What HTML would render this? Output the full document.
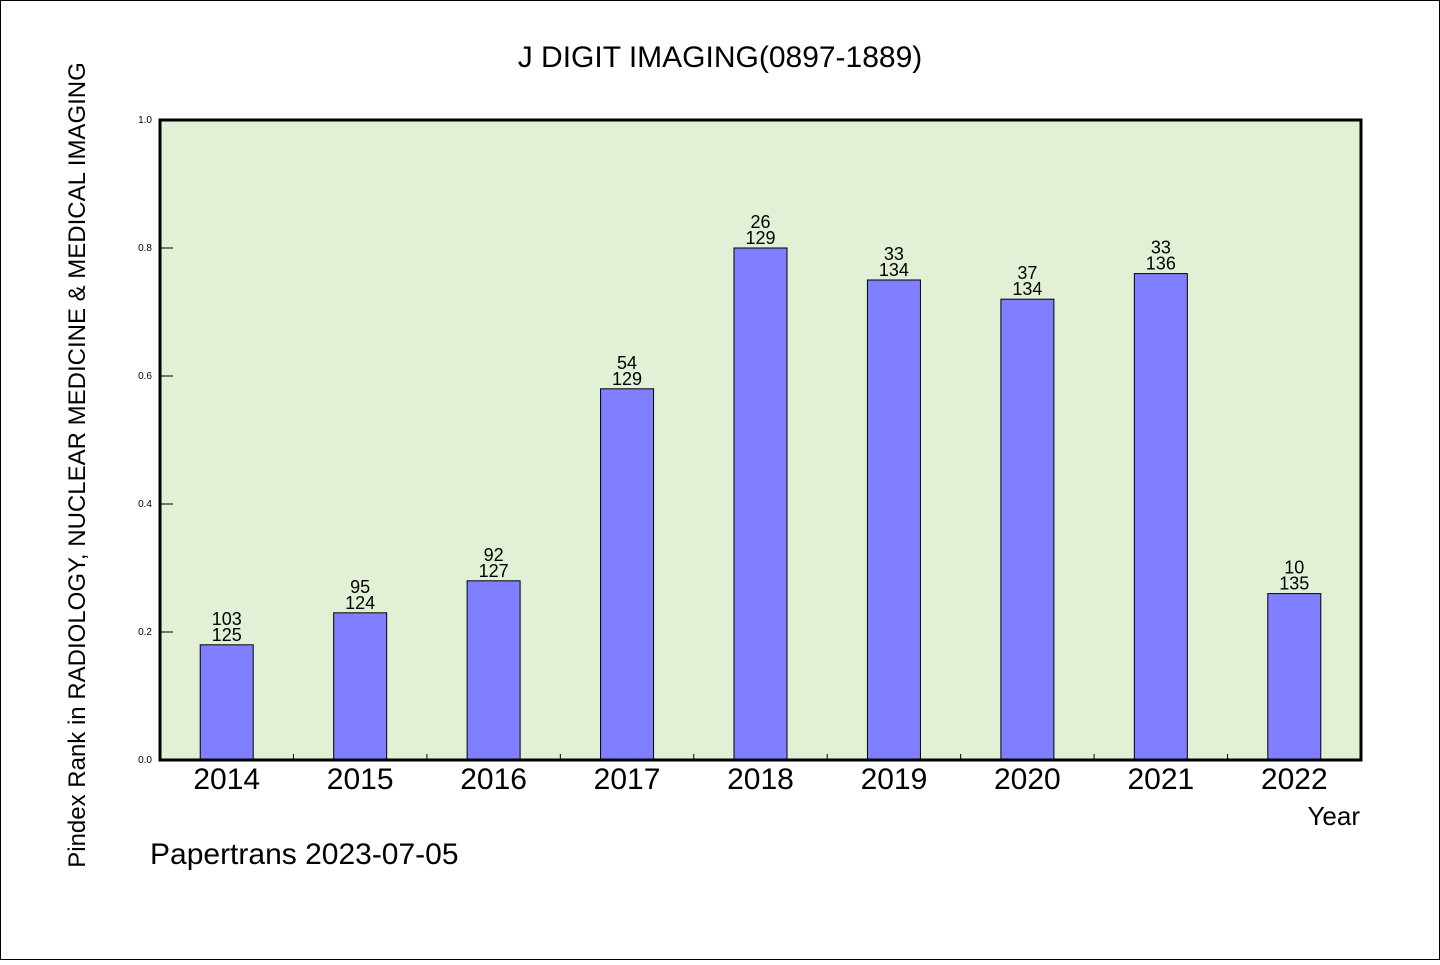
<!DOCTYPE html>
<html><head><meta charset="utf-8"><style>
body{margin:0;background:#fff}
svg text{font-family:"WenQuanYi Zen Hei","Liberation Sans",sans-serif}
</style></head><body>
<svg width="1440" height="960" xmlns="http://www.w3.org/2000/svg">
<rect x="0.5" y="0.5" width="1439" height="959" fill="#fff" stroke="#000"/>
<text x="720" y="67" font-size="30" text-anchor="middle">J DIGIT IMAGING(0897-1889)</text>
<rect x="160" y="120" width="1201" height="640" fill="#e2f0d6"/>
<g id="bars"></g>
<rect x="160" y="120" width="1201" height="640" fill="none" stroke="#000" stroke-width="3"/>
<g id="axes"></g>
<text x="1360" y="825" font-size="26" text-anchor="end">Year</text>
<text x="150" y="864" font-size="30">Papertrans 2023-07-05</text>
<text transform="translate(85,465) rotate(-90)" font-size="24" text-anchor="middle">Pindex Rank in RADIOLOGY, NUCLEAR MEDICINE &amp; MEDICAL IMAGING</text>
</svg>
<script>
const years=["2014","2015","2016","2017","2018","2019","2020","2021","2022"];
const values=[0.18,0.23,0.28,0.58,0.80,0.75,0.72,0.76,0.26];
const ranks=["103","95","92","54","26","33","37","33","10"];
const totals=["125","124","127","129","129","134","134","136","135"];
const yTicks=[0,0.2,0.4,0.6,0.8,1.0];
const NS="http://www.w3.org/2000/svg";
const L=160,R=1361,T=120,B=760;
const band=(R-L)/years.length;
const xc=i=>L+band*(i+0.5);
const y=v=>B-(B-T)*v;
function mk(tag,attrs,parent,txt){const e=document.createElementNS(NS,tag);for(const k in attrs)e.setAttribute(k,attrs[k]);if(txt!==undefined)e.textContent=txt;parent.appendChild(e);return e;}
const gb=document.getElementById('bars'),ga=document.getElementById('axes');
years.forEach((yr,i)=>{
 const bw=53;
 const r=mk('rect',{x:xc(i)-bw/2,y:y(values[i]),width:bw,height:B-y(values[i]),fill:'#7f7fff',stroke:'#000','stroke-width':1},gb);
 
 
 const t1=mk('text',{x:xc(i),y:y(values[i])-20,'font-size':18,'text-anchor':'middle'},gb,ranks[i]);
 
 
 const t2=mk('text',{x:xc(i),y:y(values[i])-4,'font-size':18,'text-anchor':'middle'},gb,totals[i]);
 
 
 const xl=mk('text',{x:xc(i),y:B+29,'font-size':30,'text-anchor':'middle'},ga,yr);
 
 
 if(i>0){const tk=mk('line',{x1:L+band*i,x2:L+band*i,y1:B,y2:B-6,stroke:'#000'},ga);
 
 }
});
yTicks.forEach(v=>{
 const tk=mk('line',{x1:L,x2:L+13,y1:y(v),y2:y(v),stroke:'#000'},ga);
 
 
 const tl=mk('text',{x:L-8,y:y(v)+3,'font-size':10,'text-anchor':'end'},ga,v.toFixed(1));
 
 
});
</script>
</body></html>
